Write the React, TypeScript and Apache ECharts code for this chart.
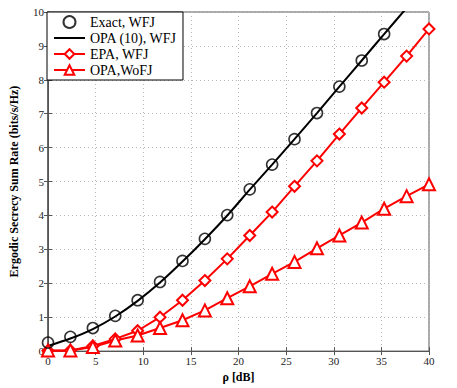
import React, { useEffect, useRef } from "react";
import * as echarts from "echarts";

const rho = [0, 2.35, 4.71, 7.06, 9.41, 11.76, 14.12, 16.47, 18.82, 21.18, 23.53, 25.88, 28.24, 30.59, 32.94, 35.29, 37.65, 40];
const exactWFJ = [0.25, 0.42, 0.68, 1.04, 1.5, 2.04, 2.66, 3.31, 4.01, 4.77, 5.5, 6.25, 7.02, 7.8, 8.57, 9.35];
const opaWFJ = [0.15, 0.37, 0.65, 1.02, 1.48, 2.02, 2.64, 3.3, 4.0, 4.76, 5.5, 6.25, 7.02, 7.8, 8.57, 9.35, 10.12, 10.9];
const epaWFJ = [0.01, 0.02, 0.15, 0.36, 0.6, 1.0, 1.5, 2.08, 2.72, 3.41, 4.1, 4.86, 5.61, 6.4, 7.17, 7.93, 8.7, 9.5];
const opaWoFJ = [0.02, 0.02, 0.12, 0.31, 0.46, 0.68, 0.91, 1.2, 1.56, 1.91, 2.28, 2.63, 3.03, 3.41, 3.79, 4.2, 4.57, 4.92];
const seriesNames = ["Exact, WFJ", "OPA (10), WFJ", "EPA, WFJ", "OPA,WoFJ"];

const pair = (ys: number[]) => ys.map((y, i) => [rho[i], y]);
const FONT = "'Liberation Serif', 'Times New Roman', serif";
const AX = "#555";

export default function App() {
  const ref = useRef<HTMLDivElement>(null);
  useEffect(() => {
    if (!ref.current) return;
    const chart = echarts.init(ref.current, undefined, { renderer: "svg" });
    const splitLine = { show: true, lineStyle: { color: "#b8b8b8", type: [1, 3] as any, width: 1 } };
    const tick = { show: true, inside: true, length: 4, lineStyle: { color: AX } };
    chart.setOption({
      animation: false,
      backgroundColor: "#ffffff",
      grid: { left: 47, right: 28, top: 12, bottom: 26, show: true, borderColor: AX, borderWidth: 1, backgroundColor: "transparent" },
      legend: {
        orient: "vertical",
        left: 47,
        top: 12,
        data: [
          { name: seriesNames[0] },
          { name: seriesNames[1], itemStyle: { opacity: 0 } },
          { name: seriesNames[2] },
          { name: seriesNames[3] },
        ],
        backgroundColor: "#fff",
        borderColor: "#000",
        borderWidth: 1,
        borderRadius: 0,
        padding: [3, 6, 3, 6],
        itemGap: 2,
        itemWidth: 31,
        itemHeight: 12,
        textStyle: { fontFamily: FONT, fontSize: 14, lineHeight: 12, color: "#000" },
      },
      xAxis: [
        {
          type: "value",
          min: 0,
          max: 40,
          interval: 5,
          name: "ρ [dB]",
          nameLocation: "middle",
          nameGap: 19,
          nameTextStyle: { fontFamily: FONT, fontSize: 12, fontWeight: "bold", color: "#000" },
          axisLine: { show: true, lineStyle: { color: AX, width: 1 } },
          axisTick: tick,
          axisLabel: { fontFamily: FONT, fontSize: 11, color: "#222", margin: 4 },
          splitLine,
        },
        {
          type: "value",
          position: "top",
          min: 0,
          max: 40,
          interval: 5,
          axisLine: { show: true, lineStyle: { color: AX, width: 1 } },
          axisTick: tick,
          axisLabel: { show: false },
          splitLine: { show: false },
        },
      ],
      yAxis: [
        {
          type: "value",
          min: 0,
          max: 10,
          interval: 1,
          name: "Ergodic Secrecy Sum Rate (bits/s/Hz)",
          nameLocation: "middle",
          nameGap: 28,
          nameTextStyle: { fontFamily: FONT, fontSize: 12, fontWeight: "bold", color: "#000" },
          axisLine: { show: true, lineStyle: { color: AX, width: 1 } },
          axisTick: tick,
          axisLabel: { fontFamily: FONT, fontSize: 11, color: "#222", margin: 4 },
          splitLine,
        },
        {
          type: "value",
          position: "right",
          min: 0,
          max: 10,
          interval: 1,
          axisLine: { show: true, lineStyle: { color: AX, width: 1.5 } },
          axisTick: tick,
          axisLabel: { show: false },
          splitLine: { show: false },
        },
      ],
      series: [
        {
          name: seriesNames[0],
          type: "scatter",
          data: pair(exactWFJ),
          symbol: "circle",
          symbolSize: 11,
          itemStyle: { color: "rgba(255,255,255,0)", borderColor: "#000", borderWidth: 1.6 },
          z: 3,
        },
        {
          name: seriesNames[1],
          type: "line",
          data: pair(opaWFJ),
          showSymbol: false,
          symbol: "none",
          smooth: 0.3,
          lineStyle: { color: "#000", width: 2 },
          itemStyle: { color: "#000" },
          clip: true,
          z: 2,
        },
        {
          name: seriesNames[2],
          type: "line",
          data: pair(epaWFJ),
          symbol: "emptyDiamond",
          symbolSize: 11,
          lineStyle: { color: "#ff0000", width: 2 },
          itemStyle: { color: "#ff0000", borderWidth: 1.8 },
          z: 2,
        },
        {
          name: seriesNames[3],
          type: "line",
          data: pair(opaWoFJ),
          symbol: "emptyTriangle",
          symbolSize: 12,
          lineStyle: { color: "#ff0000", width: 2 },
          itemStyle: { color: "#ff0000", borderWidth: 1.8 },
          z: 2,
        },
      ],
    });
    return () => chart.dispose();
  }, []);
  return <div ref={ref} style={{ position: "fixed", left: 0, top: 0, width: 457, height: 388 }} />;
}
